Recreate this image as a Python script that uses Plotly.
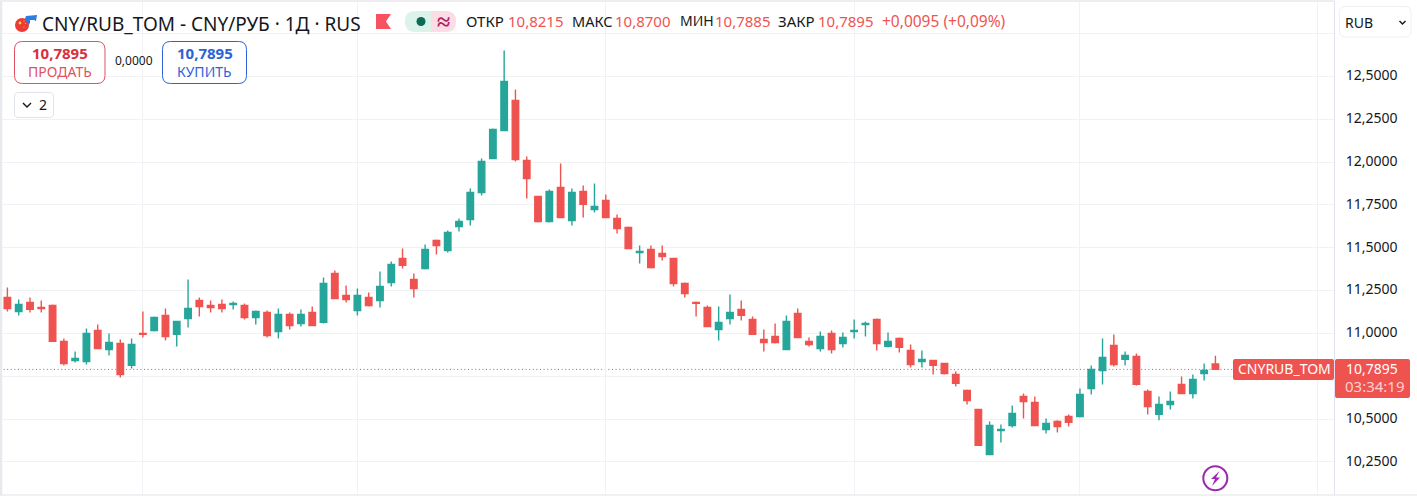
import plotly.graph_objects as go

# Daily CNY/RUB_TOM candles, oldest first
opens = [11.210, 11.128, 11.180, 11.151, 11.163, 10.953, 10.842, 10.836, 11.017, 10.906, 10.941, 10.813,
         10.999, 11.017, 11.105, 10.994, 11.087, 11.192, 11.163, 11.169, 11.169, 11.163, 11.093, 11.122,
         11.011, 11.110, 11.058, 11.122, 11.064, 11.350, 11.221, 11.134, 11.210, 11.192, 11.297, 11.437,
         11.315, 11.379, 11.542, 11.484, 11.624, 11.665, 11.823, 12.021, 12.185, 12.360, 12.010, 11.799,
         11.653, 11.852, 11.659, 11.829, 11.723, 11.776, 11.671, 11.618, 11.472, 11.490, 11.467, 11.437,
         11.291, 11.180, 11.151, 11.023, 11.087, 11.140, 11.081, 10.964, 10.982, 10.906, 11.116, 10.953,
         10.912, 10.999, 10.941, 11.011, 11.052, 11.081, 10.924, 10.970, 10.900, 10.836, 10.842, 10.824,
         10.760, 10.667, 10.556, 10.293, 10.433, 10.462, 10.632, 10.597, 10.439, 10.486, 10.515, 10.515,
         10.678, 10.783, 10.929, 10.848, 10.865, 10.661, 10.527, 10.585, 10.702, 10.649, 10.766, 10.8215]
highs = [11.268, 11.198, 11.210, 11.192, 11.169, 10.970, 10.894, 11.029, 11.052, 10.999, 10.964, 10.970,
         11.128, 11.099, 11.145, 11.069, 11.315, 11.210, 11.192, 11.198, 11.186, 11.175, 11.134, 11.134,
         11.145, 11.122, 11.140, 11.157, 11.326, 11.367, 11.280, 11.262, 11.239, 11.361, 11.420, 11.496,
         11.350, 11.519, 11.548, 11.601, 11.671, 11.846, 12.021, 12.196, 12.652, 12.424, 12.033, 11.799,
         11.840, 11.992, 11.846, 11.864, 11.875, 11.811, 11.694, 11.624, 11.513, 11.513, 11.513, 11.437,
         11.297, 11.186, 11.163, 11.157, 11.227, 11.192, 11.099, 11.023, 11.058, 11.105, 11.145, 10.976,
         11.011, 11.017, 11.005, 11.081, 11.069, 11.087, 11.005, 10.976, 10.935, 10.900, 10.842, 10.824,
         10.778, 10.672, 10.556, 10.486, 10.468, 10.579, 10.649, 10.632, 10.503, 10.492, 10.527, 10.678,
         10.813, 10.970, 10.994, 10.894, 10.883, 10.672, 10.632, 10.661, 10.748, 10.760, 10.824, 10.8700]
lows = [11.128, 11.105, 11.122, 11.122, 10.953, 10.813, 10.830, 10.818, 10.912, 10.871, 10.742, 10.795,
        10.976, 11.011, 10.959, 10.924, 11.034, 11.099, 11.122, 11.122, 11.140, 11.081, 11.052, 10.976,
        10.970, 11.023, 11.040, 11.046, 11.058, 11.204, 11.180, 11.105, 11.157, 11.151, 11.274, 11.379,
        11.210, 11.373, 11.461, 11.472, 11.595, 11.630, 11.805, 12.021, 12.185, 12.004, 11.788, 11.647,
        11.647, 11.677, 11.630, 11.677, 11.706, 11.677, 11.583, 11.496, 11.408, 11.379, 11.426, 11.274,
        11.210, 11.099, 11.040, 10.959, 11.052, 11.075, 10.994, 10.894, 10.941, 10.906, 10.976, 10.924,
        10.894, 10.883, 10.918, 10.970, 10.982, 10.900, 10.918, 10.888, 10.801, 10.801, 10.760, 10.760,
        10.690, 10.585, 10.346, 10.293, 10.363, 10.451, 10.503, 10.462, 10.416, 10.421, 10.456, 10.509,
        10.643, 10.702, 10.807, 10.813, 10.696, 10.527, 10.492, 10.556, 10.649, 10.620, 10.725, 10.7885]
closes = [11.145, 11.169, 11.140, 11.145, 10.953, 10.824, 10.853, 10.999, 10.912, 10.947, 10.760, 10.935,
          10.994, 11.093, 10.982, 11.069, 11.145, 11.157, 11.151, 11.145, 11.175, 11.093, 11.128, 10.988,
          11.110, 11.046, 11.110, 11.046, 11.291, 11.204, 11.198, 11.221, 11.163, 11.274, 11.402, 11.397,
          11.262, 11.490, 11.513, 11.589, 11.653, 11.823, 12.004, 12.191, 12.471, 12.015, 11.904, 11.653,
          11.829, 11.677, 11.823, 11.753, 11.741, 11.677, 11.612, 11.496, 11.478, 11.385, 11.449, 11.291,
          11.233, 11.175, 11.040, 11.064, 11.122, 11.105, 10.994, 10.947, 10.947, 11.069, 10.976, 10.935,
          10.982, 10.906, 10.976, 11.017, 11.058, 10.941, 10.953, 10.918, 10.818, 10.848, 10.813, 10.766,
          10.708, 10.608, 10.346, 10.462, 10.439, 10.532, 10.602, 10.462, 10.474, 10.456, 10.480, 10.643,
          10.789, 10.859, 10.818, 10.871, 10.702, 10.573, 10.585, 10.602, 10.649, 10.731, 10.783, 10.7895]

last_price = 10.7895
price_ticks = [12.75, 12.5, 12.25, 12.0, 11.75, 11.5, 11.25, 11.0, 10.75, 10.5, 10.25]
price_tick_labels = ["", "12,5000", "12,2500", "12,0000", "11,7500", "11,5000", "11,2500", "11,0000",
                     "", "10,5000", "10,2500"]
time_grid = [12, 31, 53, 75, 95, 116]

WIDTH, HEIGHT = 1417, 499
LEFT, RIGHT, TOP, BOTTOM = 0, 1334, 1, 495
GREEN, RED, BLUE, INK = "#26a69a", "#ef5350", "#2962ff", "#131722"
GRID = "#f1f2f5"
FONT = "Noto Sans"


def fx(px):
    return (px - LEFT) / (RIGHT - LEFT)


def fy(px):
    return (BOTTOM - px) / (BOTTOM - TOP)


def path(points, close=True):
    d = "M" + " L".join(f"{fx(x):.5f},{fy(y):.5f}" for x, y in points)
    return d + (" Z" if close else "")


def rounded(x0, y0, x1, y1, r):
    c = lambda x, y: f"{fx(x):.5f},{fy(y):.5f}"
    return (f"M{c(x0 + r, y0)} L{c(x1 - r, y0)} Q{c(x1, y0)} {c(x1, y0 + r)} "
            f"L{c(x1, y1 - r)} Q{c(x1, y1)} {c(x1 - r, y1)} L{c(x0 + r, y1)} "
            f"Q{c(x0, y1)} {c(x0, y1 - r)} L{c(x0, y0 + r)} Q{c(x0, y0)} {c(x0 + r, y0)} Z")


shapes, notes = [], []


def shape_path(d, fill="rgba(0,0,0,0)", line=None, width=1, layer="above"):
    shapes.append(dict(type="path", xref="paper", yref="paper", path=d, fillcolor=fill,
                       line=dict(color=line or "rgba(0,0,0,0)", width=width if line else 0), layer=layer))


def circle(cx, cy, r, fill="rgba(0,0,0,0)", line=None, width=1):
    shapes.append(dict(type="circle", xref="paper", yref="paper", x0=fx(cx - r), x1=fx(cx + r),
                       y0=fy(cy + r), y1=fy(cy - r), fillcolor=fill,
                       line=dict(color=line or "rgba(0,0,0,0)", width=width if line else 0)))


def label(x, y, text, size=15, color=INK, anchor="left", bold=False):
    notes.append(dict(xref="paper", yref="paper", x=fx(x), y=fy(y), text=f"<b>{text}</b>" if bold else text,
                      showarrow=False, xanchor=anchor, yanchor="middle", borderpad=0, borderwidth=0,
                      font=dict(family=FONT, size=size, color=color)))


fig = go.Figure(go.Candlestick(
    x=list(range(len(opens))), open=opens, high=highs, low=lows, close=closes,
    increasing=dict(line=dict(color=GREEN, width=1.4), fillcolor=GREEN),
    decreasing=dict(line=dict(color=RED, width=1.4), fillcolor=RED),
    whiskerwidth=0, hoverinfo="skip", showlegend=False,
))

# Dotted last-price line under the candles
shapes.append(dict(type="line", xref="paper", yref="y", x0=0, x1=1, y0=last_price, y1=last_price,
                   line=dict(color="#d9534f", width=1, dash="1px,2.6px"), layer="below"))

# Panel borders
shapes.append(dict(type="line", xref="paper", yref="paper", x0=0, x1=1, y0=1, y1=1,
                   line=dict(color="#e8e9ed", width=1.5)))
shapes.append(dict(type="line", xref="paper", yref="paper", x0=fx(1), x1=fx(1), y0=0, y1=1,
                   line=dict(color="#e8e9ed", width=2.5)))
shapes.append(dict(type="line", xref="paper", yref="paper", x0=0, x1=fx(1417), y0=0, y1=0,
                   line=dict(color="#e0e3eb", width=1)))

# Header: instrument icon, title, market flag
circle(22, 25, 7, fill="#ee3a34")
for sx, sy, sr in [(20, 23, 1.4), (24, 21, 0.6), (25.5, 23.5, 0.6), (24, 27, 0.6)]:
    circle(sx, sy, sr, fill="#ffd24a")
shape_path(path([(26, 16), (37, 15), (36, 21), (31, 20), (29, 25), (25, 19)]), fill="#2a7de1")
shape_path(path([(30, 20), (35, 20), (33, 24), (30, 24)]), fill="#ffffff")
label(42, 24, "CNY/RUB_TOM - CNY/РУБ · 1Д · RUS", size=19)
shape_path(path([(376, 14), (391, 14), (386, 21.5), (391, 29), (376, 29)]), fill="#f7525f")

# Market status pill: green half with a dot, pink half with the delay sign
shape_path(rounded(420, 11, 456, 32, 10), fill="#fbdde6")
shape_path(rounded(405, 11, 431, 32, 10), fill="#dcf3ec")
shape_path(path([(421, 11), (431, 11), (431, 32), (421, 32)]), fill="#dcf3ec")
circle(421, 21.5, 4.5, fill="#0b6b54")
label(443, 20.5, "≈", size=24, color="#b0235f", anchor="center", bold=True)

# OHLC readout
for x, text, color, size in [(466, "ОТКР", INK, 15), (508, "10,8215", RED, 15), (572, "МАКС", INK, 14.5),
                             (615, "10,8700", RED, 15), (680, "МИН", INK, 14), (715, "10,7885", RED, 15),
                             (778, "ЗАКР", INK, 15), (818, "10,7895", RED, 15),
                             (882, "+0,0095 (+0,09%)", RED, 15.5)]:
    label(x, 20.5, text, color=color, size=size)

# Sell / buy buttons and the collapsed indicator counter
shape_path(rounded(14.5, 41.5, 105, 83.5, 8), fill="#ffffff", line="#e0525f", width=1)
label(59.5, 53, "10,7895", size=15, color="#d8303f", anchor="center", bold=True)
label(59.5, 71, "ПРОДАТЬ", size=14, color="#e0525f", anchor="center")
label(133.5, 60.5, "0,0000", size=12, anchor="center")
shape_path(rounded(162.5, 41.5, 246.5, 83.5, 8), fill="#ffffff", line="#2e62d9", width=1)
label(204.5, 53, "10,7895", size=15, color="#2e62d9", anchor="center", bold=True)
label(204.5, 71, "КУПИТЬ", size=14, color="#2e62d9", anchor="center")
shape_path(rounded(14.5, 92.5, 53.5, 117.5, 4), fill="#ffffff", line="#e0e3eb", width=1)
shape_path(path([(23, 103), (27, 107), (31, 103)], close=False), line=INK, width=1.4)
label(43, 104.5, "2", size=14, anchor="center")

# Currency selector above the price scale
shape_path(rounded(1339.5, 6.5, 1411, 37, 6), fill="#ffffff", line="#eef0f4", width=1)
label(1345, 22, "RUB", size=14)
shape_path(path([(1399.5, 21), (1402.5, 24), (1405.5, 21)], close=False), line=INK, width=1.4)

# Last-price tags
shape_path(rounded(1233, 359, 1334, 380, 2), fill=RED)
label(1284, 368.5, "CNYRUB_TOM", size=14, color="#ffffff", anchor="center")
shape_path(rounded(1335, 359, 1410, 398, 2), fill=RED)
label(1372, 368.5, "10,7895", size=14, color="#ffffff", anchor="center")
label(1375, 386, "03:34:19", size=15, color="#fbd0d0", anchor="center")

# Lightning badge
circle(1215.3, 478.3, 12, fill="#ffffff", line="#9c27b0", width=2)
shape_path(path([(1219.5, 471), (1211, 479), (1215, 479), (1212, 486), (1220, 477.5), (1216, 477.5)]), fill="#9c27b0")

fig.update_layout(
    width=WIDTH, height=HEIGHT, separators=", ",
    margin=dict(l=LEFT, r=WIDTH - RIGHT, t=TOP, b=HEIGHT - BOTTOM, autoexpand=False),
    paper_bgcolor="#ffffff", plot_bgcolor="#ffffff",
    font=dict(family=FONT, color=INK, size=14),
    boxgap=0.18, showlegend=False, hovermode=False, dragmode=False,
    shapes=shapes, annotations=notes,
    xaxis=dict(range=[(LEFT - 7.4) / 11.29, (RIGHT - 7.4) / 11.29], rangeslider=dict(visible=False),
               tickmode="array", tickvals=time_grid, ticktext=[""] * len(time_grid), ticks="",
               showgrid=True, gridcolor=GRID, gridwidth=1, zeroline=False, showline=False),
    yaxis=dict(range=[12.5 - (BOTTOM - 76.5) / 171.25, 12.5 + (76.5 - TOP) / 171.25], side="right",
               tickmode="array", tickvals=price_ticks, ticktext=price_tick_labels, ticks="",
               ticklabelstandoff=8, ticklabelshift=-1, tickfont=dict(family=FONT, size=14, color=INK),
               showgrid=True, gridcolor=GRID, gridwidth=1, zeroline=False,
               showline=True, linecolor="#e0e3eb", linewidth=1),
)

fig.write_html("out.html", config=dict(displayModeBar=False, staticPlot=True))
